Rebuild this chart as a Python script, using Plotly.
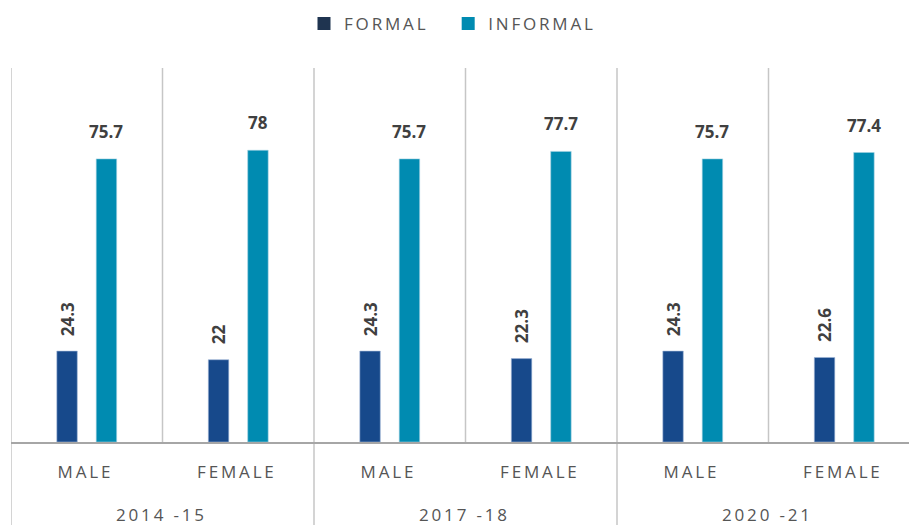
import plotly.graph_objects as go

years = ["2014 -15", "2017 -18", "2020 -21"]
genders = ["MALE", "FEMALE"]
formal = [24.3, 22, 24.3, 22.3, 24.3, 22.6]
informal = [75.7, 78, 75.7, 77.7, 75.7, 77.4]

SP = "\u2009"
NB = "\u00a0"
BAR_W = 0.135
OFF = 0.13


def spaced(s):
    return SP.join(list(s)) + SP + SP


cats = [g for y in years for g in genders]
xs = list(range(len(cats)))

value_font = dict(family="Open Sans", size=17, color="#404040", weight="bold")
label_color = "#555555"

fig = go.Figure()

fig.add_trace(go.Bar(
    x=xs, y=formal, name="FORMAL", showlegend=False,
    offset=-OFF - BAR_W / 2, width=BAR_W,
    marker=dict(color="#17498b", line=dict(color="#9fb6d6", width=0.6)),
))
fig.add_trace(go.Bar(
    x=xs, y=informal, name="INFORMAL", showlegend=False,
    offset=OFF - BAR_W / 2, width=BAR_W,
    marker=dict(color="#008bb1", line=dict(color="#9fd0e0", width=0.6)),
))

# value labels
for i, v in zip(xs, formal):
    fig.add_annotation(
        x=i - OFF, y=v, text=f"{v:g}", showarrow=False, textangle=-90,
        yanchor="bottom", yshift=13, font=value_font,
    )
for i, v in zip(xs, informal):
    fig.add_annotation(
        x=i + OFF, y=v, text=f"{v:g}", showarrow=False,
        yanchor="bottom", yshift=14, font=value_font,
    )

# legend-only entries
for name, col in [("FORMAL", "#1f3450"), ("INFORMAL", "#008bb1")]:
    fig.add_trace(go.Scatter(
        x=[None], y=[None], mode="markers",
        name=SP.join(list(name)) + NB * 4,
        marker=dict(symbol="square", size=13, color=col),
    ))

# separators
for i in range(len(cats)):
    xb = i - 0.5
    long_line = i % 2 == 0
    fig.add_shape(
        type="line", xref="x", yref="paper", x0=xb, x1=xb,
        y0=-0.222 if long_line else 0, y1=1,
        line=dict(color="#c6c6c6", width=1.5), layer="below",
    )

for j, y in enumerate(years):
    fig.add_annotation(
        x=2 * j + 0.5, xref="x", y=-0.195, yref="paper", text=spaced(y),
        showarrow=False, yanchor="middle",
        font=dict(family="Open Sans", size=17, color=label_color),
    )

fig.update_layout(
    width=909, height=525,
    margin=dict(l=11, r=0, t=68, b=83),
    paper_bgcolor="white", plot_bgcolor="white",
    barmode="overlay",
    showlegend=True,
    legend=dict(
        orientation="h", x=0.5, xanchor="center", y=1.118, yanchor="middle",
        font=dict(family="Open Sans", size=17, color=label_color),
        itemwidth=30, traceorder="normal",
    ),
    font=dict(family="Open Sans"),
)

fig.update_xaxes(
    range=[-0.5, -0.5 + 898 / 151.5],
    tickvals=xs, ticktext=[spaced(c) for c in cats],
    tickfont=dict(family="Open Sans", size=17, color=label_color),
    showgrid=False, zeroline=False,
    showline=True, linecolor="#a6a6a6", linewidth=2,
    ticks="", ticklabelstandoff=14,
)
fig.update_yaxes(range=[0, 100], visible=False, showgrid=False)

fig.write_html(
    "out.html",
    config={"displayModeBar": False},
    post_script="document.body.style.margin='0';",
)
